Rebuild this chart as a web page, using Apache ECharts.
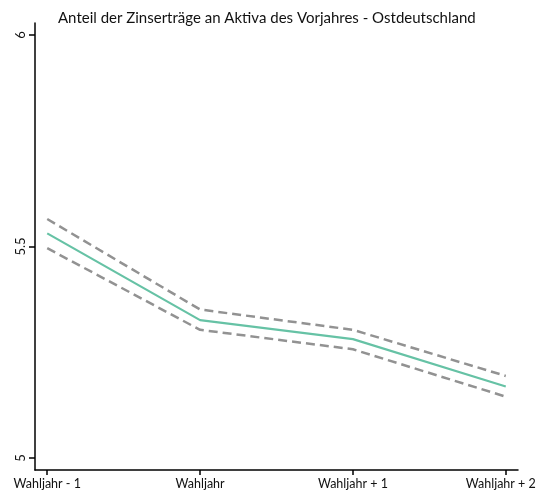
<!DOCTYPE html>
<html><head><meta charset="utf-8">
<script src="https://cdn.jsdelivr.net/npm/echarts@6/dist/echarts.min.js"></script>
<style>html,body{margin:0;padding:0;background:#fff}#c{width:539px;height:500px}</style>
</head><body><div id="c"></div>
<script>
const categories = ['Wahljahr - 1', 'Wahljahr', 'Wahljahr + 1', 'Wahljahr + 2'];
const estimate = [5.531, 5.326, 5.281, 5.169];
const upper = [5.565, 5.351, 5.303, 5.194];
const lower = [5.496, 5.303, 5.257, 5.145];
const yTicks = [5, 5.5, 6];
const title = 'Anteil der Zinserträge an Aktiva des Vorjahres - Ostdeutschland';

const idx = categories.map((_, i) => i);
const pts = arr => arr.map((v, i) => [i, v]);
const font = 'Lato, "Open Sans", sans-serif';
const lastIdx = categories.length - 1;

const chart = echarts.init(document.getElementById('c'), null, {renderer: 'canvas'});
chart.setOption({
  animation: false,
  backgroundColor: '#fff',
  title: {text: title, left: 53, top: 6, textStyle: {fontFamily: font, fontSize: 15, fontWeight: 'normal', color: '#111'}},
  grid: {left: 35, right: 21, top: 23, bottom: 30, containLabel: false, outerBoundsMode: 'none'},
  xAxis: {
    type: 'value', min: -0.08, max: 3.08,
    splitLine: {show: false},
    axisLine: {show: true, onZero: false, lineStyle: {color: '#000', width: 1.5}},
    axisTick: {show: true, customValues: idx, length: 5, lineStyle: {color: '#000', width: 1.5}},
    axisLabel: {
      customValues: idx,
      formatter: v => { const i = Math.round(v); return i === lastIdx ? '{last|' + categories[i] + '}' : categories[i]; },
      rich: {last: {fontFamily: font, fontSize: 12.5, color: '#111', padding: [0, 10, 0, 0]}},
      fontFamily: font, fontSize: 12.5, color: '#111', margin: 7, hideOverlap: false
    }
  },
  yAxis: {
    type: 'value', min: 4.9716, max: 6.0284,
    splitLine: {show: false},
    axisLine: {show: true, onZero: false, lineStyle: {color: '#000', width: 1.5}},
    axisTick: {show: true, customValues: yTicks, length: 6, lineStyle: {color: '#000', width: 1.5}},
    axisLabel: {customValues: yTicks, rotate: 90, formatter: v => String(v), fontFamily: font, fontSize: 13, color: '#111', margin: 8}
  },
  series: [
    {type: 'line', data: pts(upper), symbol: 'none', lineStyle: {color: '#929292', width: 2.5, type: [9, 5]}},
    {type: 'line', data: pts(lower), symbol: 'none', lineStyle: {color: '#929292', width: 2.5, type: [9, 5]}},
    {type: 'line', data: pts(estimate), symbol: 'none', lineStyle: {color: '#66c2a5', width: 2.2}}
  ]
});
</script></body></html>
